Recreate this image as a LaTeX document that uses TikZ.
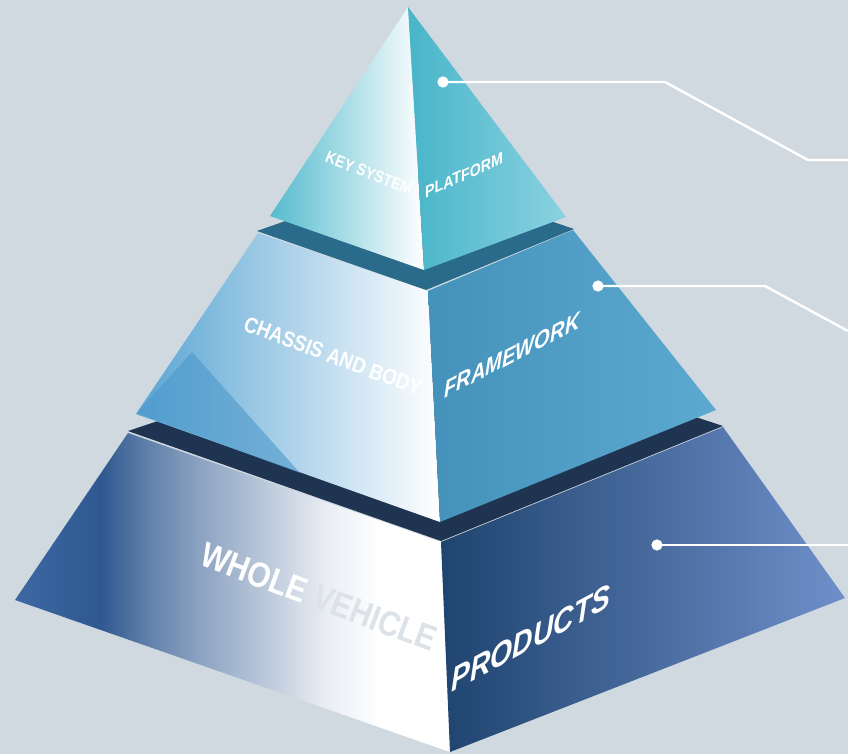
\documentclass[tikz,border=0pt]{standalone}
\usepackage{fontspec}
\setmainfont{Liberation Sans}
\newfontfamily\tagfont[FakeStretch=0.85]{Liberation Sans}
\definecolor{bgcol}{HTML}{D0D9DF}
\definecolor{topleft}{HTML}{55BBCE}
\definecolor{topright}{HTML}{48B5C9}
\definecolor{topfar}{HTML}{8AD2E0}
\definecolor{bandone}{HTML}{2A6B8B}
\definecolor{midleft}{HTML}{58A4D3}
\definecolor{midstrip}{HTML}{4C98CB}
\definecolor{midright}{HTML}{4A9FCB}
\definecolor{bandtwo}{HTML}{1E3450}
\definecolor{lowtip}{HTML}{3D68A2}
\definecolor{lowleft}{HTML}{2F5890}
\definecolor{lowright}{HTML}{1F446F}
\definecolor{lowfar}{HTML}{6F8FCA}
\pgfdeclarehorizontalshading{lowface}{100bp}{color(0bp)=(lowtip); color(25bp)=(lowtip);
    color(34.8bp)=(lowleft); color(40.5bp)=(lowleft!75!white); color(46.3bp)=(lowleft!55!white);
    color(53bp)=(lowleft!35!white); color(61bp)=(lowleft!10!white); color(67bp)=(white); color(100bp)=(white)}
\begin{document}
\begin{tikzpicture}[x=0.02cm,y=-0.02cm,
    callout/.style={draw=white,line width=1.4pt},
    tag/.style={text=white,inner sep=0pt}]
    \fill[bgcol] (0,0) rectangle (848,754);
    \useasboundingbox (0,0) rectangle (848,754);
    % bottom tier
    \fill[bandtwo] (128,431) -- (441,541) -- (723,426) -- (430,330) -- cycle;
    \shade[shading=lowface] (128,433) -- (441,542) -- (450,752) -- (15,600) -- cycle;
    \shade[left color=lowright,right color=lowfar] (441,542) -- (723,427) -- (845,598) -- (450,752) -- cycle;
    % middle tier
    \fill[bandone] (257,231) -- (426,290) -- (574,229) -- (416,175) -- cycle;
    \shade[left color=midleft,middle color=midleft!40!white,right color=white] (258,233) -- (428,291) -- (440,522) -- (136,414) -- cycle;
    \fill[midstrip,opacity=0.6] (137,413) -- (192,352) -- (300,473) -- cycle;
    \shade[left color=midright!92!black,right color=midright!90!white] (428,291) -- (573,230) -- (716,410) -- (440,522) -- cycle;
    % top tier
    \shade[left color=topleft,right color=white] (408,7) -- (270,216) -- (424,270) -- cycle;
    \shade[left color=topright,right color=topfar] (408,7) -- (424,270) -- (566,217) -- cycle;
    % labels on the faces
    \node[tag,font=\tagfont\bfseries\fontsize{9.5}{10}\selectfont,rotate=-21] (keysys) at (369,173) {KEY SYSTEM};
    \node[tag,font=\tagfont\bfseries\fontsize{9.5}{10}\selectfont,yslant=0.45] (platf) at (464,175) {PLATFORM};
    \node[tag,font=\tagfont\bfseries\fontsize{12.5}{13}\selectfont,rotate=-20.5] (chassis) at (333,356) {CHASSIS AND BODY};
    \node[tag,font=\tagfont\bfseries\itshape\fontsize{13.5}{14}\selectfont,yslant=0.52] (frame) at (512,355) {FRAMEWORK};
    \node[tag,font=\tagfont\bfseries\fontsize{20}{20}\selectfont,rotate=-20.5] (whole) at (319,597) {WHOLE \textcolor{bgcol!75!white}{VEHICLE}};
    \node[tag,font=\tagfont\bfseries\itshape\fontsize{19}{19}\selectfont,yslant=0.54] (prod) at (531,638) {PRODUCTS};
    % callouts
    \coordinate (d1) at (443,82);
    \coordinate (k1) at (665,82);
    \coordinate (j1) at (808,160);
    \coordinate (e1) at (848,160);
    \coordinate (d2) at (598,286);
    \coordinate (k2) at (765,286);
    \coordinate (e2) at (848,331);
    \coordinate (d3) at (657,545);
    \coordinate (e3) at (848,545);
    \draw[callout] (d1) -- (k1) -- (j1) -- (e1);
    \draw[callout] (d2) -- (k2) -- (e2);
    \draw[callout] (d3) -- (e3);
    \foreach \d in {d1,d2,d3}
        \fill[white] (\d) circle[radius=3.2pt];
\end{tikzpicture}
\end{document}
